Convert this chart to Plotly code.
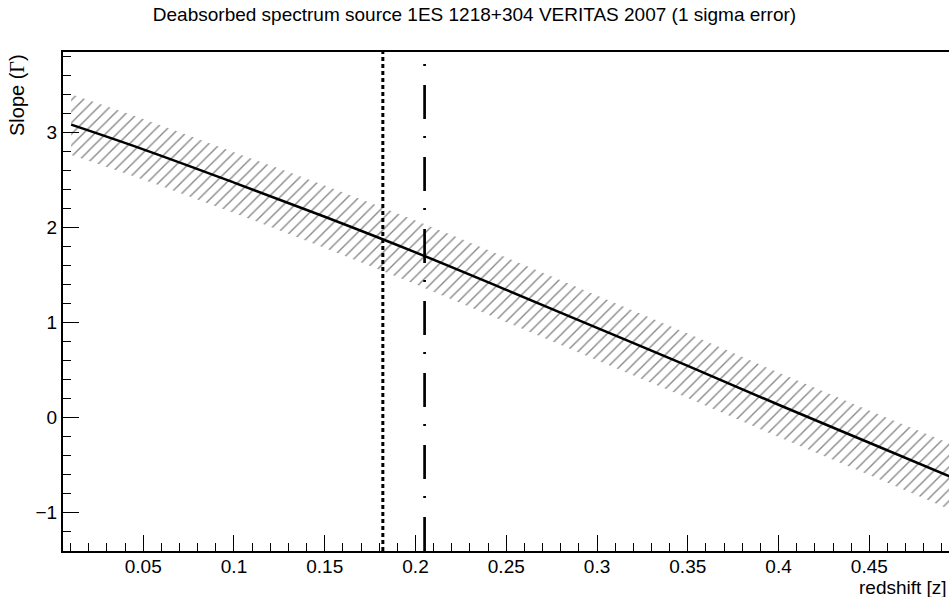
import plotly.graph_objects as go

# Data
z = [0.0103, 0.05, 0.1, 0.15, 0.2, 0.25, 0.3, 0.35, 0.4, 0.45, 0.5]
slope = [3.08, 2.82, 2.47, 2.11, 1.735, 1.34, 0.94, 0.54, 0.13, -0.27, -0.67]
slope_upper = [3.40, 3.14, 2.79, 2.44, 2.07, 1.68, 1.28, 0.88, 0.47, 0.07, -0.32]
slope_lower = [2.76, 2.50, 2.15, 1.78, 1.40, 1.00, 0.60, 0.20, -0.21, -0.61, -1.02]
z_source = 0.182
z_limit = 0.205
x_range = [0.0058, 0.4939]
y_range = [-1.41, 3.845]
y_ticks = [-1, 0, 1, 2, 3]
x_ticks = [0.05, 0.1, 0.15, 0.2, 0.25, 0.3, 0.35, 0.4, 0.45]

FONT = "Liberation Sans, Arial, sans-serif"

fig = go.Figure()
fig.add_trace(go.Scatter(x=z, y=slope_upper, mode="lines", line=dict(width=0, shape="spline"),
                         showlegend=False, hoverinfo="skip"))
fig.add_trace(go.Scatter(x=z, y=slope_lower, mode="lines", line=dict(width=0, shape="spline"),
                         fill="tonexty", fillcolor="rgba(0,0,0,0)",
                         fillpattern=dict(shape="/", size=8, solidity=0.17,
                                          fgcolor="#111111", bgcolor="rgba(0,0,0,0)",
                                          fillmode="overlay"),
                         showlegend=False, hoverinfo="skip"))
fig.add_trace(go.Scatter(x=z, y=slope, mode="lines",
                         line=dict(color="black", width=2.5, shape="spline"),
                         showlegend=False))

# vertical lines
fig.add_shape(type="line", xref="x", yref="y", x0=z_source, x1=z_source,
              y0=y_range[0], y1=y_range[1], line=dict(color="black", width=3, dash="4px,3px"))
fig.add_shape(type="line", xref="x", yref="y", x0=z_limit, x1=z_limit,
              y0=y_range[0], y1=3.72, line=dict(color="black", width=2.7, dash="34px,19px,2px,17px"))

fig.update_layout(
    width=949, height=597,
    margin=dict(l=63, r=0, t=52, b=46),
    paper_bgcolor="white", plot_bgcolor="white",
    font=dict(family=FONT, color="black", size=19),
    title=dict(text="Deabsorbed spectrum source 1ES 1218+304 VERITAS 2007 (1 sigma error)",
               x=0.5, xanchor="center", y=1 - 14/597, yanchor="middle",
               font=dict(size=19, family=FONT)),
    xaxis=dict(range=x_range, showgrid=False, zeroline=False,
               showline=True, linecolor="black", linewidth=2, mirror=True,
               ticks="inside", ticklen=16, tickwidth=1, tickcolor="black",
               tickvals=x_ticks, ticktext=[f"{v:g}" for v in x_ticks],
               ticklabelstandoff=-3,
               minor=dict(ticks="inside", ticklen=8, tickwidth=1, tickcolor="black", dtick=0.01,
                          tick0=0, showgrid=False),
               tickfont=dict(size=19)),
    yaxis=dict(range=y_range, showgrid=False, zeroline=False,
               showline=True, linecolor="black", linewidth=2, mirror=False,
               ticks="inside", ticklen=16, tickwidth=1, tickcolor="black",
               tickvals=y_ticks, ticktext=[f"{v:g}".replace("-", "\u2212") for v in y_ticks],
               minor=dict(ticks="inside", ticklen=8, tickwidth=1, tickcolor="black", dtick=0.2,
                          tick0=0, showgrid=False),
               tickfont=dict(size=19)),
)

fig.add_annotation(text="redshift [z]", xref="paper", yref="paper", x=1.0, y=-(587 - 551) / 499,
                   xanchor="right", yanchor="middle", showarrow=False, font=dict(size=19))
fig.add_annotation(text="Slope (<span style='font-family:Liberation Serif'>\u0393</span>)",
                   xref="paper", yref="paper", x=(17 - 63) / 886, y=1.0, textangle=-90,
                   xanchor="center", yanchor="top", showarrow=False, font=dict(size=20))

fig.write_html("out.html")
